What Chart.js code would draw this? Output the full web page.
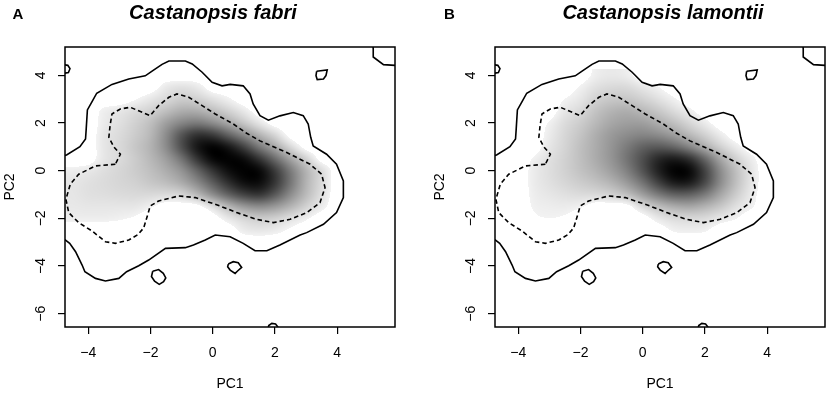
<!DOCTYPE html>
<html><head><meta charset="utf-8">
<script src="https://cdn.jsdelivr.net/npm/chart.js@4.4.0/dist/chart.umd.min.js"></script>
<style>
html,body{margin:0;padding:0;background:#fff;}
#wrap{position:relative;width:829px;height:393px;overflow:hidden;background:#fff;}
canvas{position:absolute;top:0;}
</style></head><body>
<div id="wrap">
<canvas id="cA" width="415" height="393" style="left:0px"></canvas>
<canvas id="cB" width="399" height="393" style="left:430px"></canvas>
</div>
<script>
// ---------- data ----------
const panelLetters = ["A", "B"];
const speciesNames = ["Castanopsis fabri", "Castanopsis lamontii"];
const xAxisTitle = "PC1";
const yAxisTitle = "PC2";
const xTickValues = [-4, -2, 0, 2, 4];
const xTickLabels = ["\u22124", "\u22122", "0", "2", "4"];
const yTickValues = [-6, -4, -2, 0, 2, 4];
const yTickLabels = ["\u22126", "\u22124", "\u22122", "0", "2", "4"];
const xRange = [-4.75, 5.86];
const yRange = [-6.56, 5.19];

// density grid (cell centres), darkness 0 (white) .. 100 (black)
const gridX = [-4.5,-4,-3.5,-3,-2.5,-2,-1.5,-1,-0.5,0,0.5,1,1.5,2,2.5,3,3.5,4];
const gridY = [4,3.5,3,2.5,2,1.5,1,0.5,0,-0.5,-1,-1.5,-2,-2.5,-3];

const densityFabri = [
 [0,0,0,0,0,0,0,0,0,0,0,0,0,0,0,0,0,0],
 [0,0,0,0,0,0,9,12,9,0,0,0,0,0,0,0,0,0],
 [0,0,0,0,4,10,15,20,18,12,6,0,0,0,0,0,0,0],
 [0,0,7,10,14,18,25,32,32,26,18,9,0,0,0,0,0,0],
 [0,0,8,12,18,25,38,48,52,45,34,22,10,0,0,0,0,0],
 [0,0,10,14,20,28,45,68,82,78,62,46,30,16,0,0,0,0],
 [0,0,10,15,22,30,45,70,92,100,92,75,52,34,15,0,0,0],
 [0,0,10,14,20,28,38,55,80,98,100,96,80,58,36,18,0,0],
 [7,9,13,16,20,25,32,42,60,80,95,100,98,78,52,30,14,0],
 [10,12,14,16,18,22,26,33,46,64,82,95,96,80,54,30,14,0],
 [10,12,13,14,15,15,14,16,28,45,62,75,80,66,45,27,12,0],
 [9,10,10,10,10,6,0,0,0,12,28,40,45,40,30,18,8,0],
 [7,7,7,6,4,0,0,0,0,0,9,16,20,18,12,6,0,0],
 [0,0,0,0,0,0,0,0,0,0,0,8,10,8,3,0,0,0],
 [0,0,0,0,0,0,0,0,0,0,0,0,0,0,0,0,0,0]
];

const densityLamontii = [
 [0,0,0,0,0,0,7,9,7,0,0,0,0,0,0,0,0,0],
 [0,0,0,0,0,6,12,15,15,10,5,0,0,0,0,0,0,0],
 [0,0,0,0,5,10,18,22,22,18,12,6,0,0,0,0,0,0],
 [0,0,0,0,10,15,24,30,32,28,22,14,7,0,0,0,0,0],
 [0,0,0,6,14,20,28,35,38,38,32,25,16,8,0,0,0,0],
 [0,0,0,8,16,23,32,40,45,48,45,38,28,18,8,0,0,0],
 [0,0,0,10,17,25,33,42,52,62,65,60,48,32,18,8,0,0],
 [0,0,6,12,18,25,33,42,55,70,85,90,82,60,35,18,7,0],
 [0,0,8,13,18,24,30,38,50,68,88,100,98,75,45,25,10,0],
 [0,0,8,12,16,20,24,30,40,55,75,90,90,72,45,25,10,0],
 [0,0,7,10,12,14,15,18,25,38,52,62,62,52,35,20,8,0],
 [0,0,6,7,8,6,0,0,0,15,25,32,35,30,22,12,6,0],
 [0,0,4,5,4,0,0,0,0,0,9,14,15,14,9,5,0,0],
 [0,0,0,0,0,0,0,0,0,0,0,6,7,6,0,0,0,0],
 [0,0,0,0,0,0,0,0,0,0,0,0,0,0,0,0,0,0]
];

// environment contours (same background in both panels)
const contourOuter = [
 [-4.80,0.62],[-4.70,0.66],[-4.27,1.01],[-4.09,1.33],[-4.07,1.71],[-4.03,2.55],[-3.88,2.90],[-3.73,3.25],
 [-3.24,3.62],[-2.70,3.85],[-2.17,3.98],[-1.95,4.18],[-1.63,4.46],[-1.41,4.60],[-0.88,4.60],[-0.66,4.48],
 [-0.34,4.13],[-0.02,3.71],[0.30,3.56],[0.56,3.62],[0.98,3.56],[1.20,3.22],[1.30,2.80],[1.52,2.31],
 [1.79,2.12],[2.16,2.30],[2.59,2.44],[2.91,2.31],[3.07,1.96],[3.15,1.40],[3.23,1.04],[3.66,0.69],
 [3.98,0.27],[4.20,-0.43],[4.20,-1.13],[3.98,-1.76],[3.56,-2.25],[3.02,-2.60],[2.81,-2.70],[2.16,-3.12],
 [1.74,-3.36],[1.36,-3.36],[0.98,-3.05],[0.56,-2.77],[0.08,-2.70],[-0.24,-2.91],[-0.62,-3.12],[-0.88,-3.23],
 [-1.52,-3.26],[-2.06,-3.75],[-2.38,-3.99],[-2.77,-4.24],[-3.02,-4.52],[-3.45,-4.63],[-3.77,-4.52],
 [-4.11,-4.24],[-4.20,-3.96],[-4.41,-3.40],[-4.60,-3.05],[-4.74,-2.91],[-4.80,-2.88]
];
const contourInner = [
 [-3.13,0.27],[-3.77,0.20],[-4.31,-0.15],[-4.58,-0.57],[-4.72,-1.20],[-4.63,-1.76],[-4.31,-2.18],
 [-3.88,-2.53],[-3.45,-2.98],[-3.13,-3.05],[-2.70,-2.91],[-2.40,-2.68],[-2.22,-2.40],[-2.08,-1.80],
 [-2.01,-1.48],[-1.74,-1.27],[-1.09,-1.06],[-0.56,-1.13],[0.08,-1.41],[0.51,-1.62],[0.77,-1.76],
 [1.41,-2.04],[1.95,-2.18],[2.49,-2.04],[3.02,-1.76],[3.45,-1.34],[3.61,-0.71],[3.50,-0.15],[3.13,0.27],
 [2.38,0.76],[1.52,1.25],[1.09,1.57],[0.66,1.96],[0.08,2.38],[-0.34,2.73],[-0.77,3.08],[-1.15,3.22],
 [-1.41,3.08],[-1.74,2.73],[-2.01,2.31],[-2.27,2.45],[-2.65,2.66],[-2.97,2.59],[-3.24,2.38],[-3.30,1.90],
 [-3.34,1.40],[-3.18,1.00],[-2.97,0.69],[-3.13,0.27]
];
const islandTopLeft = [[-4.80,4.45],[-4.66,4.42],[-4.59,4.28],[-4.64,4.12],[-4.80,4.08]];
const islandTopRight = [[5.15,5.30],[5.16,5.10],[5.16,4.77],[5.49,4.45],[5.95,4.41]];
const islandSquare = [[3.34,4.17],[3.68,4.23],[3.64,3.99],[3.56,3.85],[3.36,3.82],[3.32,3.99],[3.34,4.17]];
const islandLeft = [[-1.93,-4.22],[-1.74,-4.15],[-1.59,-4.31],[-1.51,-4.50],[-1.58,-4.66],[-1.72,-4.77],[-1.87,-4.64],[-1.97,-4.44],[-1.93,-4.22]];
const islandMid = [[0.50,-3.92],[0.66,-3.82],[0.82,-3.86],[0.93,-4.06],[0.79,-4.22],[0.72,-4.31],[0.56,-4.17],[0.48,-4.03],[0.50,-3.92]];
const islandBottom = [[1.77,-6.70],[1.80,-6.50],[1.90,-6.41],[2.02,-6.43],[2.09,-6.55],[2.10,-6.70]];

// ---------- drawing ----------
const FONT = '"Liberation Sans", Arial, Helvetica, sans-serif';
const toPts = a => a.map(p => ({x: p[0], y: p[1]}));
const CUTOFF = 5; // darkness below which the density is shown white

const heatPlugin = {
  id: 'heat',
  beforeDatasetsDraw(chart, args, opts) {
    const dens = opts.values;
    if (!dens) return;
    const xs = chart.scales.x, ys = chart.scales.y, ctx = chart.ctx;
    const nc = gridX.length, nr = gridY.length;
    const small = document.createElement('canvas');
    small.width = nc; small.height = nr;
    const sctx = small.getContext('2d');
    const img = sctx.createImageData(nc, nr);
    for (let r = 0; r < nr; r++) for (let c = 0; c < nc; c++) {
      const g = Math.round(255 * (1 - dens[r][c] / 100));
      const k = (r * nc + c) * 4;
      img.data[k] = g; img.data[k+1] = g; img.data[k+2] = g; img.data[k+3] = 255;
    }
    sctx.putImageData(img, 0, 0);
    const a = chart.chartArea;
    const W = Math.round(a.right - a.left), H = Math.round(a.bottom - a.top);
    const big = document.createElement('canvas');
    big.width = W; big.height = H;
    const bctx = big.getContext('2d');
    bctx.fillStyle = '#fff'; bctx.fillRect(0, 0, W, H);
    const dx = (gridX[1] - gridX[0]) / 2, dy = (gridY[0] - gridY[1]) / 2;
    const x0 = xs.getPixelForValue(gridX[0] - dx) - a.left, x1 = xs.getPixelForValue(gridX[nc-1] + dx) - a.left;
    const y0 = ys.getPixelForValue(gridY[0] + dy) - a.top, y1 = ys.getPixelForValue(gridY[nr-1] - dy) - a.top;
    bctx.imageSmoothingEnabled = true;
    bctx.imageSmoothingQuality = 'high';
    bctx.drawImage(small, x0, y0, x1 - x0, y1 - y0);
    const bd = bctx.getImageData(0, 0, W, H);
    const lim = 255 * (1 - CUTOFF / 100);
    for (let k = 0; k < bd.data.length; k += 4) {
      if (bd.data[k] > lim) { bd.data[k] = bd.data[k+1] = bd.data[k+2] = 255; }
    }
    bctx.putImageData(bd, 0, 0);
    ctx.drawImage(big, a.left, a.top);
  }
};

const framePlugin = {
  id: 'frame',
  afterDraw(chart, args, opts) {
    const ctx = chart.ctx, a = chart.chartArea;
    ctx.save();
    ctx.strokeStyle = '#000'; ctx.lineWidth = 1.5;
    ctx.strokeRect(a.left, a.top, a.right - a.left, a.bottom - a.top);
    ctx.fillStyle = '#000';
    ctx.textBaseline = 'alphabetic';
    ctx.textAlign = 'left';
    ctx.font = 'bold 15px ' + FONT;
    ctx.fillText(opts.letter, opts.letterX, 18.5);
    ctx.textAlign = 'center';
    ctx.font = 'italic bold 20px ' + FONT;
    ctx.fillText(opts.title, opts.titleX, 19);
    ctx.restore();
  }
};

function contourSets() {
  const base = {showLine: true, borderColor: '#000', borderWidth: 1.6, pointRadius: 0,
                pointHoverRadius: 0, fill: false, tension: 0, clip: 0};
  return [
    Object.assign({label: 'env100', data: toPts(contourOuter)}, base),
    Object.assign({label: 'env50', data: toPts(contourInner), borderDash: [4.5, 3]}, base),
    Object.assign({label: 'i1', data: toPts(islandTopLeft)}, base),
    Object.assign({label: 'i2', data: toPts(islandTopRight)}, base),
    Object.assign({label: 'i3', data: toPts(islandSquare)}, base),
    Object.assign({label: 'i4', data: toPts(islandLeft)}, base),
    Object.assign({label: 'i5', data: toPts(islandMid)}, base),
    Object.assign({label: 'i6', data: toPts(islandBottom)}, base)
  ];
}

function makeChart(id, W, idx, dens, letterX, titleX) {
  new Chart(document.getElementById(id), {
    type: 'scatter',
    data: {datasets: contourSets()},
    options: {
      responsive: false, animation: false, devicePixelRatio: 1,
      events: [],
      layout: {padding: {left: 0, top: 47, right: W - 395, bottom: 0}},
      plugins: {
        legend: {display: false}, tooltip: {enabled: false},
        heat: {values: dens},
        frame: {letter: panelLetters[idx], title: speciesNames[idx], letterX: letterX, titleX: titleX}
      },
      scales: {
        x: {
          type: 'linear', min: xRange[0], max: xRange[1],
          afterFit(s) { s.height = 66; },
          afterBuildTicks(s) { s.ticks = xTickValues.map(v => ({value: v})); },
          grid: {display: true, drawOnChartArea: false, drawTicks: true, tickLength: 7,
                 color: '#000', tickColor: '#000', lineWidth: 1.2, tickWidth: 1.2},
          border: {display: false},
          ticks: {color: '#000', font: {family: FONT, size: 14}, padding: 11,
                  maxRotation: 0, autoSkip: false, callback: (v, i) => xTickLabels[i]},
          title: {display: true, text: xAxisTitle, color: '#000', font: {family: FONT, size: 14},
                  padding: {top: 0, bottom: 0}}
        },
        y: {
          type: 'linear', min: yRange[0], max: yRange[1],
          afterFit(s) { s.width = 65; },
          afterBuildTicks(s) { s.ticks = yTickValues.map(v => ({value: v})); },
          grid: {display: true, drawOnChartArea: false, drawTicks: true, tickLength: 7,
                 color: '#000', tickColor: '#000', lineWidth: 1.2, tickWidth: 1.2},
          border: {display: false},
          ticks: {color: '#000', font: {family: FONT, size: 14}, padding: 9,
                  minRotation: 90, maxRotation: 90, crossAlign: 'center', autoSkip: false,
                  callback: (v, i) => yTickLabels[i]},
          title: {display: true, text: yAxisTitle, color: '#000', font: {family: FONT, size: 14},
                  padding: {top: 2, bottom: 0}}
        }
      }
    },
    plugins: [heatPlugin, framePlugin]
  });
}

makeChart('cA', 415, 0, densityFabri, 12.5, 213);
makeChart('cB', 399, 1, densityLamontii, 14, 233);
</script>
</body></html>
